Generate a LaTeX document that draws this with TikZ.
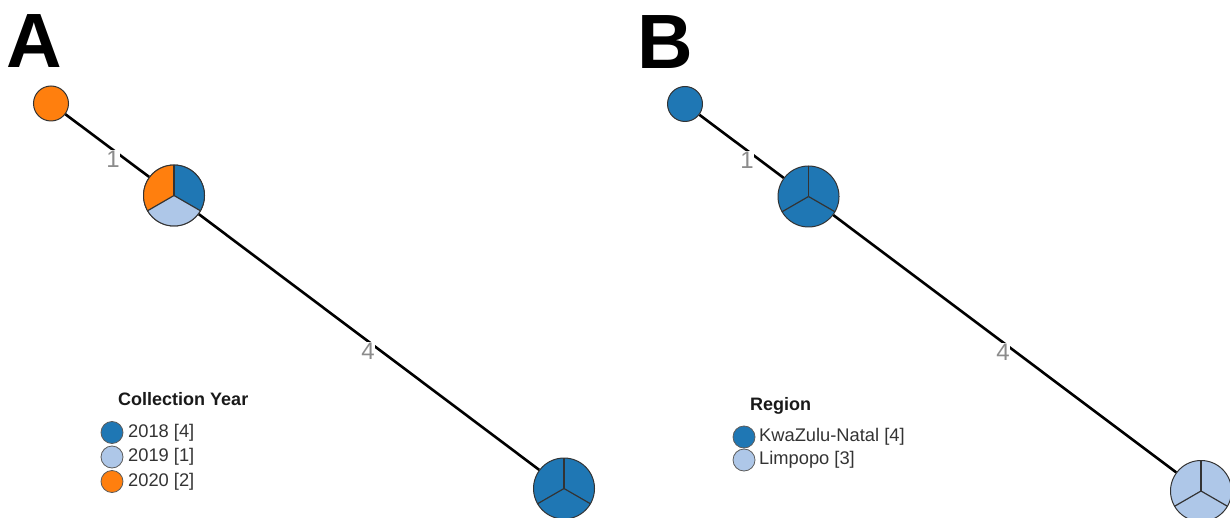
\documentclass[tikz,border=0pt]{standalone}
\usepackage{fontspec}
\setmainfont{Liberation Sans}
\usetikzlibrary{backgrounds}
\definecolor{dblue}{HTML}{1F77B4}
\definecolor{lblue}{HTML}{AEC7E8}
\definecolor{orng}{HTML}{FF7F0E}
\definecolor{strk}{HTML}{333333}
\definecolor{lbl}{HTML}{8C8C8C}
\definecolor{legtxt}{HTML}{333333}
\tikzset{
  smallnode/.style={circle, draw=strk, line width=1pt, minimum size=35pt, inner sep=0pt},
  bignode/.style={circle, draw=strk, line width=1pt, minimum size=61pt, inner sep=0pt},
  edgeline/.style={line width=2.6pt, black},
  edgelabel/.style={font=\fontsize{24}{24}\selectfont, text=lbl, fill=white, inner sep=0.5pt},
  panel/.style={font=\fontsize{77}{77}\selectfont\bfseries, text=black, inner sep=0pt, anchor=base west},
  legtitle/.style={font=\fontsize{18}{18}\selectfont\bfseries, text=black!90, anchor=base west, inner sep=0pt},
  legdot/.style={circle, draw=strk!80, line width=0.8pt, minimum size=22pt, inner sep=0pt},
  legitem/.style={font=\fontsize{18.3}{18}\selectfont, text=legtxt, anchor=west, inner sep=0pt},
  radial/.style={draw=strk, line width=1.2pt}
}
\begin{document}
\begin{tikzpicture}[x=1pt,y=1pt]
\useasboundingbox (0,0) rectangle (1230,-518);
% panel letters
\node[panel] (LA) at (6,-67.5) {A};
\node[panel] (LB) at (637,-68.5) {B};

% ---------- Panel A ----------
\node[smallnode, fill=orng] (a1) at (51,-103.5) {};
\node[bignode, fill=white] (a2) at (174,-195.5) {};
\node[bignode, fill=dblue] (a3) at (564,-488.5) {};
\fill[orng] (a2.center) -- ([shift={(90:30.5)}]a2.center) arc[start angle=90, end angle=210, radius=30.5] -- cycle;
\fill[lblue] (a2.center) -- ([shift={(210:30.5)}]a2.center) arc[start angle=210, end angle=330, radius=30.5] -- cycle;
\fill[dblue] (a2.center) -- ([shift={(330:30.5)}]a2.center) arc[start angle=330, end angle=450, radius=30.5] -- cycle;
\draw[radial] (a2.center) -- ([shift={(90:30.5)}]a2.center);
\draw[radial] (a2.center) -- ([shift={(210:30.5)}]a2.center);
\draw[radial] (a2.center) -- ([shift={(330:30.5)}]a2.center);
\draw[strk, line width=1pt] (a2) circle[radius=30.5];
\draw[radial] (a3.center) -- ([shift={(90:30.5)}]a3.center);
\draw[radial] (a3.center) -- ([shift={(210:30.5)}]a3.center);
\draw[radial] (a3.center) -- ([shift={(330:30.5)}]a3.center);

\begin{scope}[on background layer]
\draw[edgeline] (a1) -- (a2);
\draw[edgeline] (a2) -- (a3);
\node[edgelabel] (ea1) at (113,-159) {1};
\node[edgelabel] (ea2) at (368,-351) {4};
\end{scope}

% legend A
\node[legtitle] (ta) at (118,-405) {Collection Year};
\node[legdot, fill=dblue] (da1) at (112,-432.5) {};
\node[legdot, fill=lblue] (da2) at (112,-457) {};
\node[legdot, fill=orng] (da3) at (112,-481.5) {};
\node[legitem] (ia1) at (128,-432.5) {2018 [4]};
\node[legitem] (ia2) at (128,-457) {2019 [1]};
\node[legitem] (ia3) at (128,-481.5) {2020 [2]};

% ---------- Panel B ----------
\node[smallnode, fill=dblue] (b1) at (685,-104) {};
\node[bignode, fill=dblue] (b2) at (808.5,-196.5) {};
\node[bignode, fill=lblue] (b3) at (1201,-491) {};
\foreach \n in {b2,b3}{
  \draw[radial] (\n.center) -- ([shift={(90:30.5)}]\n.center);
  \draw[radial] (\n.center) -- ([shift={(210:30.5)}]\n.center);
  \draw[radial] (\n.center) -- ([shift={(330:30.5)}]\n.center);
}
\begin{scope}[on background layer]
\draw[edgeline] (b1) -- (b2);
\draw[edgeline] (b2) -- (b3);
\node[edgelabel] (eb1) at (747,-160) {1};
\node[edgelabel] (eb2) at (1003,-352) {4};
\end{scope}

% legend B
\node[legtitle] (tb) at (750,-410) {Region};
\node[legdot, fill=dblue] (db1) at (744,-437) {};
\node[legdot, fill=lblue] (db2) at (744,-460) {};
\node[legitem] (ib1) at (759,-437) {KwaZulu-Natal [4]};
\node[legitem] (ib2) at (759,-460) {Limpopo [3]};
\end{tikzpicture}
\end{document}
